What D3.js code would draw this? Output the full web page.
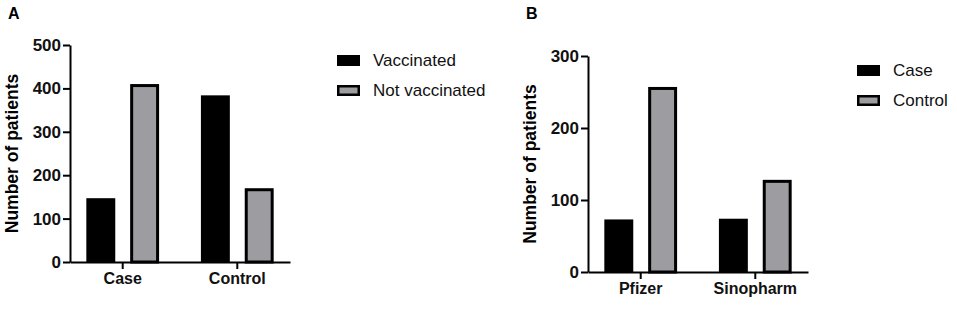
<!DOCTYPE html>
<html lang="en">
<head>
<script src="https://cdn.jsdelivr.net/npm/d3@7"></script>
<style>
  body { margin: 0; background: #fff; }
  text { font-family: "Liberation Sans", Arial, sans-serif; }
</style>
</head>
<body>
<script>
  // panel A: vaccination status
  const catsA = ['Case', 'Control']
  const seriesA = ['Vaccinated', 'Not vaccinated']
  const vaccinated = [147, 384]
  const notVaccinated = [410, 170]
  const ticksA = [0, 100, 200, 300, 400, 500]

  // panel B: vaccine type
  const catsB = ['Pfizer', 'Sinopharm']
  const seriesB = ['Case', 'Control']
  const caseVals = [73, 74]
  const controlVals = [257, 128]
  const ticksB = [0, 100, 200, 300]

  const w = 957
  const h = 312
  const gray = '#9d9da1'

  const svg = d3.select('body').append('svg')
    .attr('width', w)
    .attr('height', h)

  function panel(opt) {
    const g = svg.append('g')

    const x0 = d3.scaleBand().domain(opt.cats).range([opt.left, opt.left + 220])
      .paddingInner(0.3).paddingOuter(0.11)
    const x1 = d3.scaleBand().domain(opt.series).range([0, x0.bandwidth()])
      .paddingInner(0.34).paddingOuter(0.085)
    const y = d3.scaleLinear().domain([0, opt.max]).range([opt.bottom, opt.top])

    const rows = []
    opt.cats.forEach(function(c, i) {
      opt.series.forEach(function(s, j) {
        rows.push({cat: c, series: s, j: j, value: opt.values[j][i]})
      })
    })

    const sw = 3 // outline of the gray bars
    g.selectAll('rect.bar')
      .data(rows)
      .enter()
      .append('rect')
      .attr('class', 'bar')
      .attr('x', function(d) { return x0(d.cat) + x1(d.series) + (d.j ? sw / 2 : 0) })
      .attr('width', function(d) { return x1.bandwidth() - (d.j ? sw : 0) })
      .attr('y', function(d) { return y(d.value) + (d.j ? sw / 2 : 0) })
      .attr('height', function(d) { return opt.bottom - y(d.value) - (d.j ? sw / 2 : 0) })
      .style('fill', function(d) { return d.j ? gray : '#000' })
      .style('stroke', '#000')
      .style('stroke-width', function(d) { return d.j ? sw : 0 })

    const ya = g.append('g')
      .attr('transform', 'translate(' + opt.left + ',0)')
      .call(d3.axisLeft(y).tickValues(opt.ticks).tickSize(7).tickPadding(2).tickSizeOuter(0))
    const xa = g.append('g')
      .attr('transform', 'translate(0,' + opt.bottom + ')')
      .call(d3.axisBottom(x0).tickSize(7).tickPadding(4).tickSizeOuter(0))

    ya.selectAll('text').style('font-size', '17px')
    xa.selectAll('text').style('font-size', '16px')
    ;[ya, xa].forEach(function(a) {
      a.selectAll('path, line').style('stroke', '#000').style('stroke-width', 2)
      a.selectAll('text')
        .style('font-weight', 'bold')
        .style('fill', '#111')
    })

    g.append('text')
      .attr('transform', 'translate(' + (opt.left - 52) + ',' + ((opt.top + opt.bottom) / 2) + ') rotate(-90)')
      .attr('text-anchor', 'middle')
      .style('font-size', '17.5px')
      .style('font-weight', 'bold')
      .text('Number of patients')

    g.append('text')
      .attr('x', opt.left - 62)
      .attr('y', 19)
      .style('font-size', '16px')
      .style('font-weight', 'bold')
      .text(opt.letter)

    const leg = g.selectAll('g.leg')
      .data(opt.series)
      .enter()
      .append('g')
      .attr('class', 'leg')
      .attr('transform', function(d, i) { return 'translate(' + opt.legX + ',' + (opt.legY + i * 30) + ')' })
    leg.append('rect')
      .attr('x', function(d, i) { return i ? 1.25 : 0 })
      .attr('y', function(d, i) { return i ? 1.25 : 0 })
      .attr('width', function(d, i) { return i ? 20.5 : 23 })
      .attr('height', function(d, i) { return i ? 8.5 : 11 })
      .style('fill', function(d, i) { return i ? gray : '#000' })
      .style('stroke', '#000')
      .style('stroke-width', function(d, i) { return i ? 2.5 : 0 })
    leg.append('text')
      .attr('x', 36)
      .attr('y', 10.5)
      .style('font-size', '17px')
      .style('fill', '#111')
      .text(function(d) { return d })
  }

  panel({
    letter: 'A', cats: catsA, series: seriesA, values: [vaccinated, notVaccinated],
    ticks: ticksA, max: 500, left: 70, top: 45, bottom: 262, legX: 337, legY: 55
  })
  panel({
    letter: 'B', cats: catsB, series: seriesB, values: [caseVals, controlVals],
    ticks: ticksB, max: 300, left: 588, top: 56, bottom: 272, legX: 857, legY: 65
  })
</script>
</body>
</html>
